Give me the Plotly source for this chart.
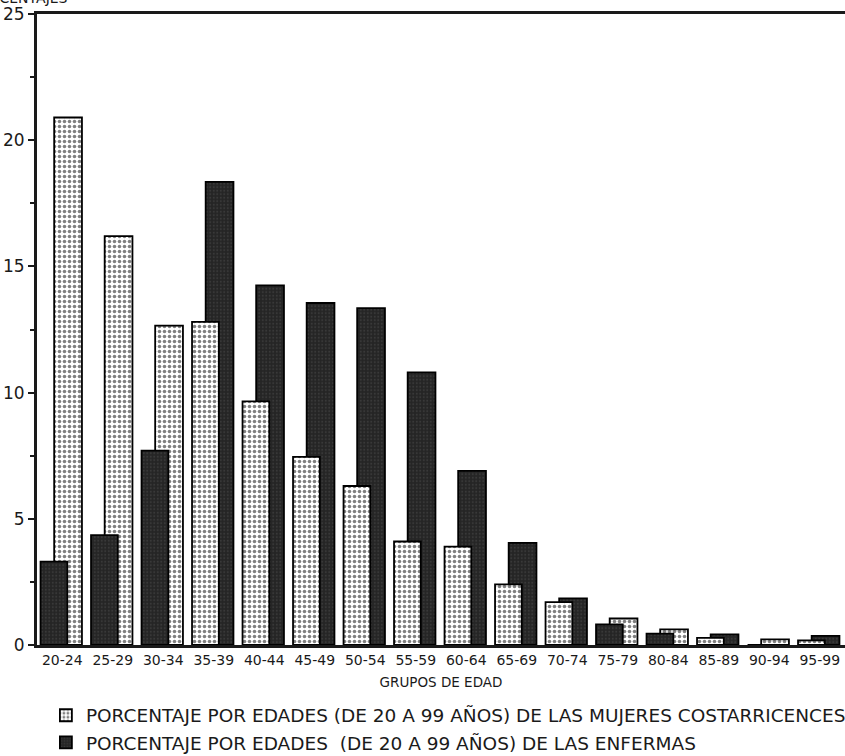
import plotly.graph_objects as go

categorias = ["20-24", "25-29", "30-34", "35-39", "40-44", "45-49", "50-54", "55-59",
              "60-64", "65-69", "70-74", "75-79", "80-84", "85-89", "90-94", "95-99"]
# Porcentaje por edades de las mujeres costarricenses (barras punteadas)
mujeres = [20.9, 16.2, 12.65, 12.8, 9.65, 7.45, 6.3, 4.1, 3.9, 2.4, 1.7, 1.05, 0.62, 0.28, 0.22, 0.18]
# Porcentaje por edades de las enfermas (barras oscuras)
enfermas = [3.3, 4.35, 7.7, 18.35, 14.25, 13.55, 13.35, 10.8, 6.9, 4.05, 1.85, 0.82, 0.45, 0.42, 0.0, 0.36]

nombre_m = "PORCENTAJE POR EDADES (DE 20 A 99 AÑOS) DE LAS MUJERES COSTARRICENCES"
nombre_e = "PORCENTAJE POR EDADES  (DE 20 A 99 AÑOS) DE LAS ENFERMAS"

FONT = "DejaVu Sans"

estilo_m = dict(color="white", line=dict(color="black", width=1.8),
                pattern=dict(shape=".", fgcolor="black", bgcolor="white", size=5, solidity=0.4))
estilo_e = dict(color="#262626", line=dict(color="black", width=1.8),
                pattern=dict(shape=".", fgcolor="#4d4d4d", bgcolor="#252525", size=3.5, solidity=0.25))

# the taller bar of each pair sits behind on the right, the shorter in front on the left
m_alta = [m if m >= e else None for m, e in zip(mujeres, enfermas)]
e_alta = [e if e > m else None for m, e in zip(mujeres, enfermas)]
m_baja = [m if m < e else None for m, e in zip(mujeres, enfermas)]
e_baja = [e if e <= m else None for m, e in zip(mujeres, enfermas)]

W_ALTA, OFF_ALTA = 0.55, -0.16
W_BAJA, OFF_BAJA = 0.53, -0.43

fig = go.Figure()
fig.add_trace(go.Bar(x=categorias, y=m_alta, name=nombre_m, marker=estilo_m,
                     width=W_ALTA, offset=OFF_ALTA, legendgroup="m", showlegend=False))
fig.add_trace(go.Bar(x=categorias, y=e_alta, name=nombre_e, marker=estilo_e,
                     width=W_ALTA, offset=OFF_ALTA, legendgroup="e", showlegend=True, legendrank=2))
fig.add_trace(go.Bar(x=categorias, y=m_baja, name=nombre_m, marker=estilo_m,
                     width=W_BAJA, offset=OFF_BAJA, legendgroup="m", showlegend=True, legendrank=1))
fig.add_trace(go.Bar(x=categorias, y=e_baja, name=nombre_e, marker=estilo_e,
                     width=W_BAJA, offset=OFF_BAJA, legendgroup="e", showlegend=False))

fig.update_layout(
    width=845, height=756,
    margin=dict(l=37, r=0, t=14, b=111, autoexpand=False),
    barmode="overlay",
    paper_bgcolor="white", plot_bgcolor="white",
    font=dict(family=FONT, color="#1a1a1a"),
    showlegend=True,
    legend=dict(orientation="v", x=0.011, xanchor="left", y=-0.082, yanchor="top",
                font=dict(family=FONT, size=18.5, color="#1a1a1a"),
                tracegroupgap=0, bgcolor="rgba(0,0,0,0)", itemclick=False),
    xaxis=dict(type="category", range=[-0.5, 15.5], showgrid=False, automargin=False,
               showline=True, linecolor="#1a1a1a", linewidth=2.5, mirror=True,
               ticks="", tickfont=dict(family=FONT, size=14, color="#1a1a1a"),
               title=dict(text="GRUPOS DE EDAD", standoff=12,
                          font=dict(family=FONT, size=13.5, color="#1a1a1a"))),
    yaxis=dict(range=[0, 25], tickvals=[0, 5, 10, 15, 20, 25], showgrid=False, zeroline=False,
               automargin=False,
               showline=True, linecolor="#1a1a1a", linewidth=3,
               ticks="outside", ticklen=6, tickwidth=2, tickcolor="#1a1a1a",
               minor=dict(tickvals=[2.5, 7.5, 12.5, 17.5, 22.5], ticks="outside", ticklen=4,
                          tickwidth=1.5, tickcolor="#1a1a1a"),
               tickfont=dict(family=FONT, size=17, color="#1a1a1a")),
    annotations=[dict(text="PORCENTAJES", xref="paper", yref="paper",
                      x=0.041, y=1.01, xanchor="right", yanchor="bottom",
                      showarrow=False, font=dict(family=FONT, size=14, color="#1a1a1a"))],
)

fig.write_html("out.html", config={"displayModeBar": False},
               post_script="document.body.style.margin='0';document.body.style.overflow='hidden';")
